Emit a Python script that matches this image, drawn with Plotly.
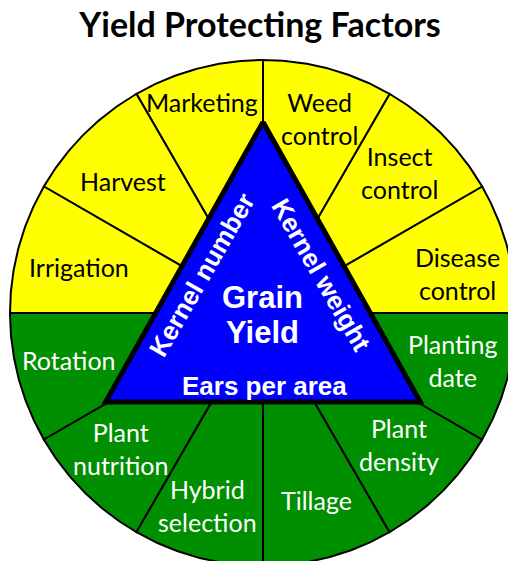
import numpy as np
import plotly.graph_objects as go

# ---------------- data ----------------
title_text = "Yield Protecting Factors"
# factors counter-clockwise starting at 3 o'clock
factors = ["Disease<br>control", "Insect<br>control", "Weed<br>control", "Marketing",
           "Harvest", "Irrigation", "Rotation", "Plant<br>nutrition",
           "Hybrid<br>selection", "Tillage", "Plant<br>density", "Planting<br>date"]
factor_group = ["upper"] * 6 + ["lower"] * 6
center_lines = ["Grain", "Yield"]
left_label = "Kernel number"
right_label = "Kernel weight"
base_label = "Ears per area"

# ---------------- style / layout ----------------
W, H = 508, 561
PX = 253.0             # pixels per unit radius
CX, CY = 263.0, 313.0  # circle centre in pixels
group_fill = {"upper": "#FFFF00", "lower": "#008F00"}
group_text = {"upper": "black", "lower": "white"}
label_r = [0.783, 0.774, 0.80, 0.868, 0.76, 0.75, 0.79, 0.777, 0.79, 0.77, 0.75, 0.77]
label_dtheta = [-3.4, 1.0, -1.3, 1.1, 1.7, 1.0, -1.5, -1.6, -1.0, 1.0, 1.0, 1.0]
tri_top, tri_base, tri_half = 0.755, -0.352, 0.622
label_font = "Lato"
tri_font = "Liberation Sans"
label_size = 25
tri_size = 26
center_size = 31
center_dy = [16 / PX, -19 / PX]   # offsets of "Grain" / "Yield" from circle centre

n = len(factors)
step = 360.0 / n
fig = go.Figure()

for i, (name, grp) in enumerate(zip(factors, factor_group)):
    a0, a1 = i * step, (i + 1) * step
    t = np.radians(np.linspace(a0, a1, 61))
    xs = np.concatenate([[0], np.cos(t), [0]])
    ys = np.concatenate([[0], np.sin(t), [0]])
    fig.add_trace(go.Scatter(x=xs, y=ys, mode="lines", fill="toself",
                             fillcolor=group_fill[grp],
                             line=dict(color="black", width=2),
                             hoverinfo="skip", showlegend=False))

# triangle
tx = [0, -tri_half, tri_half, 0]
ty = [tri_top, tri_base, tri_base, tri_top]
fig.add_trace(go.Scatter(x=tx, y=ty, mode="lines", fill="toself", fillcolor="#0000FF",
                         line=dict(color="black", width=5), hoverinfo="skip",
                         showlegend=False))

ann = []
for i, (name, grp) in enumerate(zip(factors, factor_group)):
    ang = np.radians((i + 0.5) * step + label_dtheta[i])
    ann.append(dict(x=label_r[i] * np.cos(ang), y=label_r[i] * np.sin(ang),
                    text=name, showarrow=False, xanchor="center", yanchor="middle",
                    font=dict(family=label_font, size=label_size, color=group_text[grp])))

# triangle labels
off = 20.0 / PX
lmx, lmy = (0 - tri_half) / 2, (tri_top + tri_base) / 2
ex, ey = tri_half, tri_top - tri_base
L = np.hypot(ex, ey)
nx, ny = ey / L, -ex / L
ann.append(dict(x=lmx + nx * off, y=lmy + ny * off - 3 / PX, text="<b>%s</b>" % left_label,
                textangle=-60, showarrow=False, xanchor="center", yanchor="middle",
                font=dict(family=tri_font, size=tri_size, color="white")))
rmx = (0 + tri_half) / 2
ann.append(dict(x=rmx - nx * off - 3 / PX, y=lmy + ny * off - 3 / PX, text="<b>%s</b>" % right_label,
                textangle=60, showarrow=False, xanchor="center", yanchor="middle",
                font=dict(family=tri_font, size=tri_size, color="white")))
ann.append(dict(x=1 / PX, y=tri_base + 16 / PX, text="<b>%s</b>" % base_label,
                showarrow=False, xanchor="center", yanchor="middle",
                font=dict(family=tri_font, size=tri_size, color="white")))
for line, dy in zip(center_lines, center_dy):
    ann.append(dict(x=-1 / PX, y=dy, text="<b>%s</b>" % line,
                    showarrow=False, xanchor="center", yanchor="middle",
                    font=dict(family=tri_font, size=center_size, color="white")))

fig.update_layout(
    width=W, height=H, margin=dict(l=0, r=0, t=0, b=0),
    paper_bgcolor="white", plot_bgcolor="white",
    xaxis=dict(range=[(0 - CX) / PX, (W - CX) / PX], visible=False, fixedrange=True),
    yaxis=dict(range=[(CY - H) / PX, CY / PX], visible=False, fixedrange=True),
    title=dict(text="<b>%s</b>" % title_text, x=260 / W, xanchor="center",
               y=1 - 25 / H, yanchor="middle",
               font=dict(family=label_font, size=34, color="black")),
    annotations=ann, hovermode=False, showlegend=False,
)
fig.write_html("out.html", config={"displayModeBar": False},
               post_script="document.body.style.margin='0';document.body.style.overflow='hidden';")
